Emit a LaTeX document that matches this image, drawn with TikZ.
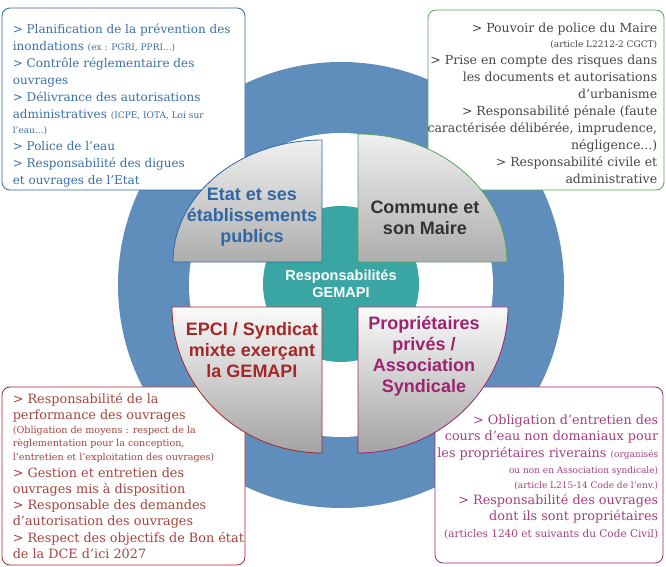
\documentclass[tikz,border=0pt]{standalone}
\usepackage{fontspec}
\setmainfont{DejaVu Serif}
\newfontfamily\titlefont{Liberation Sans}
\usepackage{tikz}
\usetikzlibrary{positioning,calc}
\definecolor{GemBlue}{HTML}{2F67A3}
\definecolor{GemBlueText}{HTML}{3A6FA8}
\definecolor{GemGreen}{HTML}{5AA35A}
\definecolor{GemRed}{HTML}{A52828}
\definecolor{GemRedText}{HTML}{A4443F}
\definecolor{GemPlum}{HTML}{9C2470}
\definecolor{GemPlumText}{HTML}{A4407F}
\definecolor{GemGrayText}{HTML}{474747}
\definecolor{GemRing}{HTML}{5F8EBC}
\definecolor{GemTeal}{HTML}{39A6A3}
\newcommand{\sm}{\fontsize{9}{11}\selectfont}
\newcommand{\smb}{\fontsize{9.6}{11}\selectfont}

\begin{document}
\begin{tikzpicture}[x=1pt,y=1pt,
  card/.style={draw,fill=white,rounded corners=8pt,line width=0.8pt},
  txt/.style={font=\fontsize{12}{17}\selectfont,inner sep=0pt},
  head/.style={font=\titlefont\bfseries\fontsize{18}{21}\selectfont,align=center,inner sep=0pt},
  quad/.style={line width=0.8pt,top color=black!6,bottom color=black!32}]
\fill[white] (0,0) rectangle (666,567);
% ring and centre
\fill[GemRing] (341,282) circle[radius=223];
\fill[white] (341,282) circle[radius=152];
\node[circle,fill=GemTeal,minimum size=156pt,text=white,align=center,font=\titlefont\bfseries\fontsize{14.5}{16.5}\selectfont] (gemapi) at (341,283) {Responsabilités\\GEMAPI};
% the four cards
\node[card,draw=GemBlue,minimum width=243pt,minimum height=182pt] (etatcard) at (123.5,468) {};
\node[card,draw=GemGreen,minimum width=236pt,minimum height=180pt] (communecard) at (546,467) {};
\node[card,draw=GemRed,minimum width=243pt,minimum height=178pt] (epcicard) at (123.5,91) {};
\node[card,draw=GemPlum,minimum width=228pt,minimum height=176pt] (propcard) at (549,92) {};
\node[txt,text=GemBlueText,align=left,anchor=north west] (etattxt) at ([shift={(11,-16)}]etatcard.north west) {> Planification de la prévention des\\
inondations {\sm (ex : PGRI, PPRI...)}\\
> Contrôle réglementaire des\\
ouvrages\\
> Délivrance des autorisations\\
administratives {\sm (ICPE, IOTA, Loi sur}\\[-2pt]
{\sm l'eau...)}\\
> Police de l'eau\\
> Responsabilité des digues\\
et ouvrages de l'Etat};
\node[txt,text=GemGrayText,align=right,anchor=north east,font=\fontsize{12.5}{17}\selectfont] (communetxt) at ([shift={(-7,-13)}]communecard.north east) {> Pouvoir de police du Maire\\[-2pt]
{\sm (article L2212-2 CGCT)}\\
> Prise en compte des risques dans\\
les documents et autorisations\\
d'urbanisme\\
> Responsabilité pénale (faute\\
caractérisée délibérée, imprudence,\\
négligence...)\\
> Responsabilité civile et\\
administrative};
\node[txt,text=GemRedText,align=left,anchor=north west,font=\fontsize{12.8}{16.3}\selectfont] (epcitxt) at ([shift={(11,-6)}]epcicard.north west) {> Responsabilité de la\\
performance des ouvrages\\[-2.5pt]
{\smb (Obligation de moyens : respect de la}\\[-2.5pt]
{\smb règlementation pour la conception,}\\[-2.5pt]
{\smb l'entretien et l'exploitation des ouvrages)}\\
> Gestion et entretien des\\
ouvrages mis à disposition\\
> Responsable des demandes\\
d'autorisation des ouvrages\\
> Respect des objectifs de Bon état\\
de la DCE d'ici 2027};
\node[txt,text=GemPlumText,align=right,anchor=north east,font=\fontsize{12.8}{16.4}\selectfont] (proptxt) at ([shift={(-5,-28)}]propcard.north east) {> Obligation d'entretien des\\
cours d'eau non domaniaux pour\\
les propriétaires riverains {\sm (organisés}\\
{\sm ou non en Association syndicale)}\\[-2pt]
{\sm (article L215-14 Code de l'env.)}\\
> Responsabilité des ouvrages\\
dont ils sont propriétaires\\
{\fontsize{10.5}{12}\selectfont (articles 1240 et suivants du Code Civil)}};
% quarters
\draw[quad,draw=GemBlue] (322,305) -- (173,305) arc[start angle=180,end angle=90,x radius=149,y radius=122] -- cycle;
\draw[quad,draw=GemGreen] (358,305) -- (507,305) arc[start angle=0,end angle=90,x radius=149,y radius=128] -- cycle;
\draw[quad,draw=GemRed,top color=black!2,bottom color=black!36] (322,260) -- (172,260) arc[start angle=180,end angle=270,x radius=150,y radius=146] -- cycle;
\draw[quad,draw=GemPlum,top color=black!2,bottom color=black!36] (358,260) -- (508,260) arc[start angle=0,end angle=-90,x radius=150,y radius=146] -- cycle;
\node[head,text=GemBlue] (etat) at (252,350) {Etat et ses\\établissements\\publics};
\node[head,text=black!80] (commune) at (425,349) {Commune et\\son Maire};
\node[head,text=GemRed] (epci) at (252,217) {EPCI / Syndicat\\mixte exerçant\\la GEMAPI};
\node[head,text=GemPlum] (prop) at (424,211) {Propriétaires\\privés /\\Association\\Syndicale};
\end{tikzpicture}
\end{document}
